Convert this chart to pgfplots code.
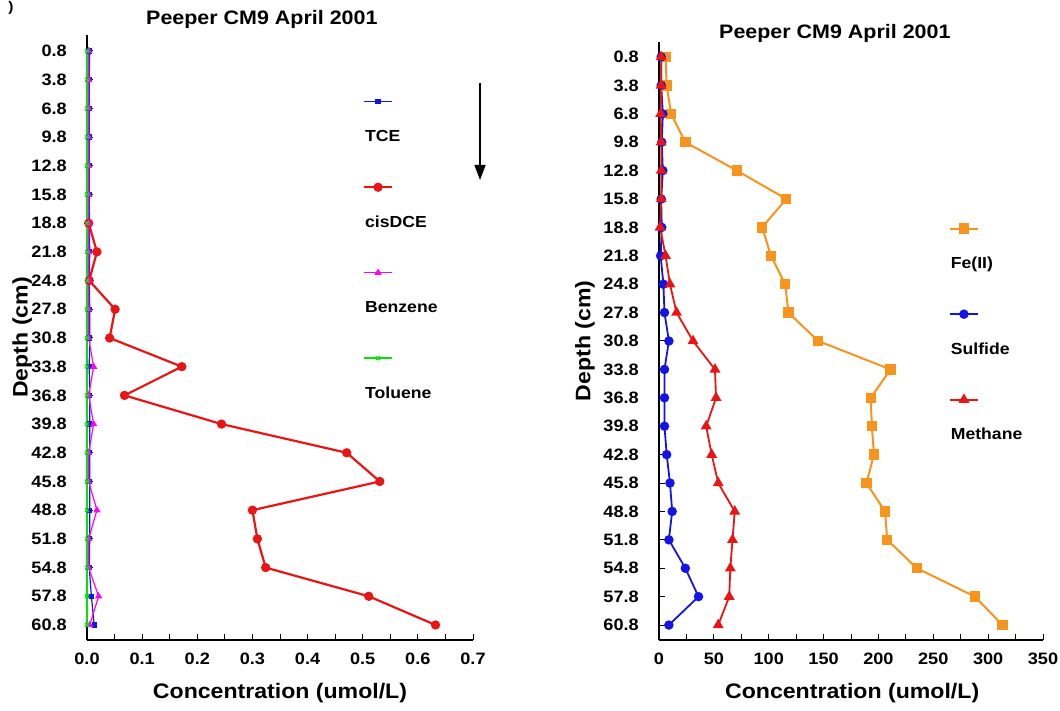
\documentclass[border=0pt]{standalone}
\usepackage{fontspec}
\setmainfont{Liberation Sans}[FakeStretch=1.1]
\usepackage{pgfplots}
\pgfplotsset{compat=1.18}
\usetikzlibrary{arrows.meta}

\definecolor{cRed}{RGB}{235,20,20}
\definecolor{cOrange}{RGB}{247,148,29}
\definecolor{cBlue}{RGB}{20,20,230}
\definecolor{cMag}{RGB}{255,0,255}
\definecolor{cGreen}{RGB}{0,230,0}

\newcommand{\tickfont}{\fontsize{16.5}{16.5}\selectfont\bfseries}
\newcommand{\titlefont}{\fontsize{19.5}{19.5}\selectfont\bfseries}
\newcommand{\labfont}{\fontsize{21}{21}\selectfont\bfseries}
\newcommand{\legfont}{\fontsize{16}{16}\selectfont\bfseries}

\pgfplotsset{
  peeper/.style={
    scale only axis,
    clip=false,
    y dir=reverse,
    axis x line*=bottom,
    axis y line*=left,
    axis line style={line width=1.8pt, black},
    tick align=inside,
    major tick length=6pt,
    minor tick length=6pt,
    every tick/.style={black, line width=1pt},
    minor x tick num=1,
    ytick={0.8,3.8,6.8,9.8,12.8,15.8,18.8,21.8,24.8,27.8,30.8,33.8,36.8,39.8,42.8,45.8,48.8,51.8,54.8,57.8,60.8},
    yticklabels={0.8,3.8,6.8,9.8,12.8,15.8,18.8,21.8,24.8,27.8,30.8,33.8,36.8,39.8,42.8,45.8,48.8,51.8,54.8,57.8,60.8},
    /pgf/number format/assume math mode=true,
    tick label style={font=\tickfont},
    yticklabel style={inner sep=0pt, xshift=-20pt},
    xticklabel style={inner sep=0pt, yshift=-13pt},
    title style={font=\titlefont},
    xlabel style={font=\labfont},
    ylabel style={font=\labfont},
    xlabel={Concentration (umol/L)},
    ylabel={Depth (cm)},
    title={Peeper CM9 April 2001},
    legend style={draw=none, fill=none, inner sep=0pt, outer sep=0pt,
      column sep=0pt, row sep=73.5pt, font=\legfont,
      nodes={inner sep=0pt, text height=12pt, text depth=0pt, anchor=west}},
    legend cell align=left,
    legend image code/.code={%
      \draw[mark repeat=2,mark phase=2,#1,overlay] plot coordinates {(0pt,34pt) (14pt,34pt) (28pt,34pt)};%
      \path (0pt,0pt);},
  }
}

\begin{document}
\begin{tikzpicture}
\useasboundingbox (0,0) rectangle (1060pt,711pt);

\node[font=\fontsize{14}{14}\selectfont\bfseries, anchor=center] at (11pt,703pt) {)};

% ---------------- left panel ----------------
\begin{axis}[peeper,
  at={(87pt,71pt)}, anchor=south west,
  width=386pt, height=605pt,
  xmin=0, xmax=0.7, ymin=-0.87, ymax=62.37,
  xtick={0,0.1,0.2,0.3,0.4,0.5,0.6,0.7},
  xticklabel style={/pgf/number format/fixed, /pgf/number format/fixed zerofill, /pgf/number format/precision=1},
  title style={at={(axis description cs:0.453,1)}, anchor=south, yshift=-3pt},
  xlabel style={at={(axis description cs:0.5,0)}, anchor=center, yshift=-53pt},
  ylabel style={at={(axis description cs:-0.168,0.5)}, anchor=center},
  legend style={at={(axis description cs:0.715,0.8434)}, anchor=north west},
]
\addplot[cBlue, line width=1.2pt, mark=square*, mark size=2pt] coordinates {
(0.005,0.8) (0.004,3.8) (0.004,6.8) (0.004,9.8) (0.004,12.8) (0.004,15.8) (0.004,18.8)
(0.005,21.8) (0.004,24.8) (0.005,27.8) (0.005,30.8) (0.004,33.8) (0.005,36.8) (0.005,39.8)
(0.005,42.8) (0.005,45.8) (0.005,48.8) (0.005,51.8) (0.004,54.8) (0.008,57.8) (0.013,60.8)};
\addlegendentry{TCE}
\addplot[cRed, line width=2.2pt, mark=*, mark size=3.5pt] coordinates {
(0.003,18.8) (0.018,21.8) (0.004,24.8) (0.051,27.8) (0.041,30.8) (0.172,33.8) (0.068,36.8)
(0.244,39.8) (0.471,42.8) (0.531,45.8) (0.300,48.8) (0.309,51.8) (0.324,54.8) (0.511,57.8) (0.632,60.8)};
\addlegendentry{cisDCE}
\addplot[cMag, line width=1.2pt, mark=triangle*, mark size=3pt] coordinates {
(0.003,0.8) (0.003,3.8) (0.003,6.8) (0.003,9.8) (0.003,12.8) (0.003,15.8) (0.003,18.8)
(0.003,21.8) (0.003,24.8) (0.003,27.8) (0.003,30.8) (0.012,33.8) (0.003,36.8) (0.012,39.8)
(0.003,42.8) (0.003,45.8) (0.018,48.8) (0.003,51.8) (0.003,54.8) (0.021,57.8) (0.005,60.8)};
\addlegendentry{Benzene}
\addplot[cGreen, line width=1.5pt, mark=x, mark size=2.5pt] coordinates {
(0,0.8) (0,3.8) (0,6.8) (0,9.8) (0,12.8) (0,15.8) (0,18.8)
(0,21.8) (0,24.8) (0,27.8) (0,30.8) (0,33.8) (0,36.8) (0,39.8)
(0,42.8) (0,45.8) (0,48.8) (0,51.8) (0,54.8) (0,57.8) (0,60.8)};
\addlegendentry{Toluene}
\end{axis}

\draw[line width=1.4pt, -{Triangle[length=15pt,width=11pt]}] (480pt,628pt) -- (480pt,531pt);

% ---------------- right panel ----------------
\begin{axis}[peeper,
  at={(659pt,71pt)}, anchor=south west,
  width=384pt, height=598pt,
  xmin=0, xmax=350, ymin=-0.78, ymax=62.38,
  xtick={0,50,100,150,200,250,300,350},
  title style={at={(axis description cs:0.458,1)}, anchor=south, yshift=-10pt},
  xlabel style={at={(axis description cs:0.503,0)}, anchor=center, yshift=-53pt},
  ylabel style={at={(axis description cs:-0.193,0.5)}, anchor=center},
  legend style={at={(axis description cs:0.755,0.641)}, anchor=north west},
]
\addplot[cOrange, line width=2pt, mark=square*, mark size=4.2pt] coordinates {
(6,0.8) (7,3.8) (11,6.8) (24,9.8) (71,12.8) (116,15.8) (94,18.8) (102,21.8) (115,24.8)
(118,27.8) (145,30.8) (211,33.8) (193,36.8) (194,39.8) (196,42.8) (189,45.8) (206,48.8)
(208,51.8) (235,54.8) (288,57.8) (313,60.8)};
\addlegendentry{Fe(II)}
\addplot[cBlue, line width=1.8pt, mark=*, mark size=3.8pt] coordinates {
(2,0.8) (2,3.8) (3.5,6.8) (2.5,9.8) (3.5,12.8) (2,15.8) (2.5,18.8) (1.5,21.8) (4,24.8)
(5,27.8) (9,30.8) (5,33.8) (5,36.8) (5,39.8) (7,42.8) (10,45.8) (12,48.8) (9,51.8)
(24,54.8) (36,57.8) (9,60.8)};
\addlegendentry{Sulfide}
\addplot[cRed, line width=1.8pt, mark=triangle*, mark size=4.5pt] coordinates {
(2,0.8) (2,3.8) (1.5,6.8) (2,9.8) (2,12.8) (2,15.8) (1,18.8) (6,21.8) (10,24.8)
(16,27.8) (31,30.8) (51,33.8) (52,36.8) (43,39.8) (48,42.8) (54,45.8) (69,48.8)
(67,51.8) (65,54.8) (64,57.8) (54,60.8)};
\addlegendentry{Methane}
\end{axis}
\end{tikzpicture}
\end{document}
